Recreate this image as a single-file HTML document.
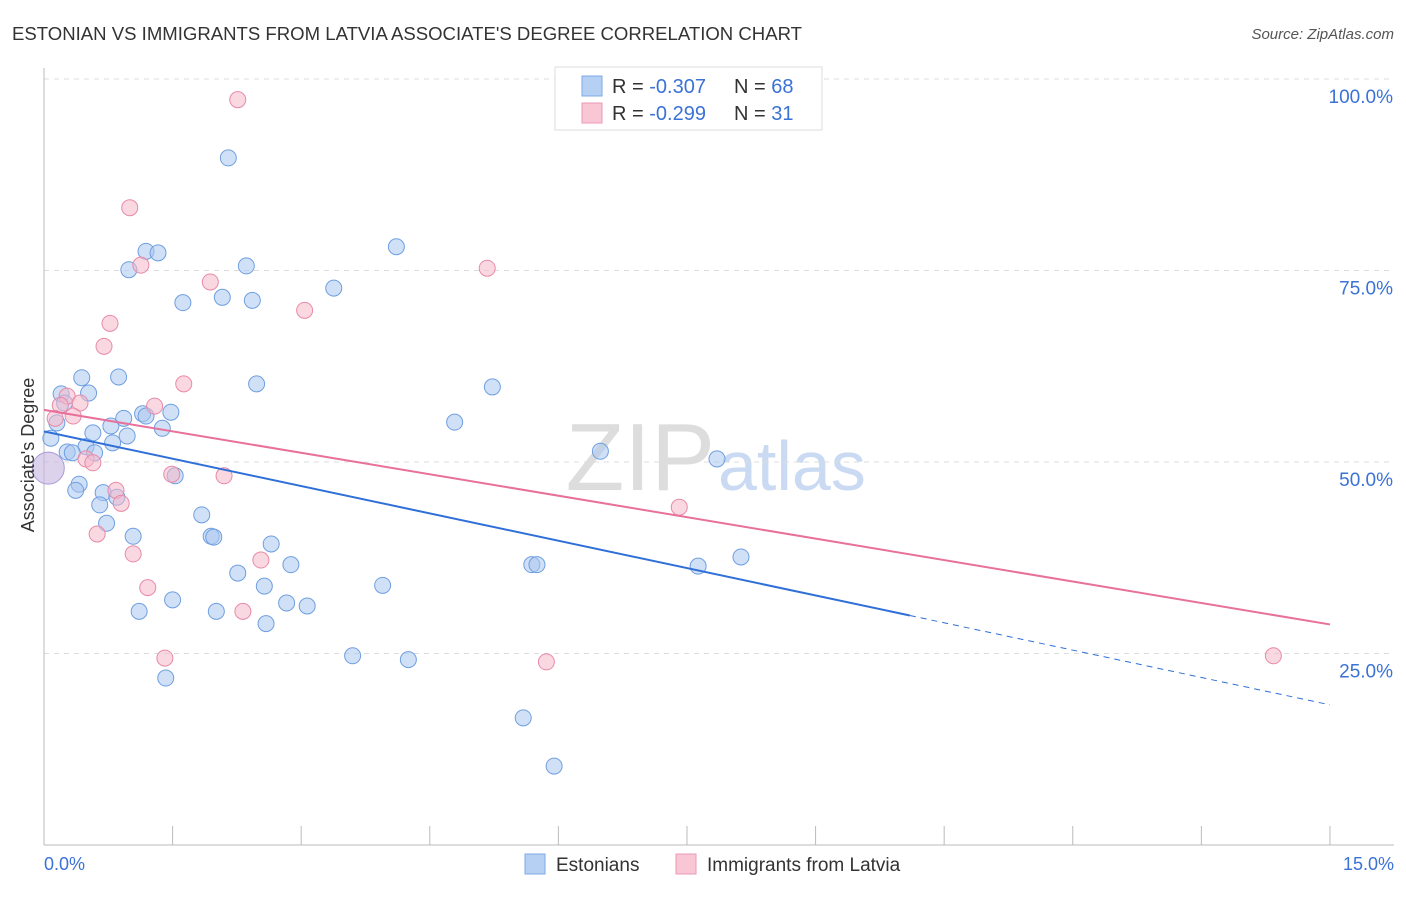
<!DOCTYPE html>
<html><head><meta charset="utf-8"><style>
body{margin:0;background:#fff;font-family:"Liberation Sans",sans-serif;}
svg text{font-family:"Liberation Sans",sans-serif;}
</style></head><body>
<svg id="chart" width="1406" height="892">
<text x="12" y="40" font-size="18" fill="#333" textLength="790" lengthAdjust="spacingAndGlyphs">ESTONIAN VS IMMIGRANTS FROM LATVIA ASSOCIATE'S DEGREE CORRELATION CHART</text>
<text x="1394" y="39" font-size="15" fill="#555" font-style="italic" text-anchor="end">Source: ZipAtlas.com</text>
<text x="715" y="490" font-size="96" fill="#ddd" text-anchor="end" font-family="Liberation Serif">ZIP</text>
<text x="718" y="490" font-size="70" fill="#c9daf2">atlas</text>
<g id="grid"></g><g id="axes"></g><g id="pts"></g><g id="lines"></g>
<text transform="translate(34,455) rotate(-90)" font-size="18" fill="#333" text-anchor="middle">Associate's Degree</text>
<text x="44" y="870" font-size="18" fill="#3a72d6">0.0%</text>
<text x="1394" y="870" font-size="18" fill="#3a72d6" text-anchor="end">15.0%</text>
<g>
<rect x="555" y="67" width="267" height="63" fill="#fff" stroke="#ddd"/>
<rect x="582" y="76" width="20" height="20" fill="#b6d0f4" stroke="#7fa9e6"/>
<rect x="582" y="103" width="20" height="20" fill="#f9c6d5" stroke="#ec9ab5"/>
<text x="612" y="93" font-size="20" fill="#333">R = <tspan fill="#3a72d6">-0.307</tspan></text>
<text x="734" y="93" font-size="20" fill="#333">N = <tspan fill="#3a72d6">68</tspan></text>
<text x="612" y="120" font-size="20" fill="#333">R = <tspan fill="#3a72d6">-0.299</tspan></text>
<text x="734" y="120" font-size="20" fill="#333">N = <tspan fill="#3a72d6"> 31</tspan></text>
</g>
<g><rect x="525" y="854" width="20" height="20" fill="#b6d0f4" stroke="#7fa9e6"/><text x="556" y="871" font-size="19" fill="#333">Estonians</text></g>
<g><rect x="676" y="854" width="20" height="20" fill="#f9c6d5" stroke="#ec9ab5"/><text x="707" y="871" font-size="19" fill="#333">Immigrants from Latvia</text></g>
</svg>
<script>
const yTicks=[25,50,75,100];
const yTickLabels=["25.0%","50.0%","75.0%","100.0%"];
const xTicks=[0,1.5,3,4.5,6,7.5,9,10.5,12,13.5,15];
const blueX=[2.15,4.11,1.19,1.33,0.99,2.36,3.38,1.62,2.08,2.43,0.44,0.87,0.20,0.52,2.48,5.23,0.24,0.93,1.15,1.48,1.19,0.15,0.78,1.38,0.57,0.97,0.08,0.80,0.49,0.27,0.59,0.33,4.79,6.49,7.85,1.53,0.41,0.37,0.69,0.85,0.65,0.73,1.84,1.04,1.95,1.98,2.65,2.26,2.88,2.57,5.69,5.75,7.63,8.13,3.95,1.50,1.11,2.01,2.83,3.07,2.59,3.60,4.25,1.42,5.59,5.95];
const blueY=[89.7,78.1,77.5,77.3,75.1,75.6,72.7,70.8,71.5,71.1,61.0,61.1,58.9,59.0,60.2,59.8,57.7,55.7,56.3,56.5,56.0,55.1,54.7,54.4,53.8,53.4,53.1,52.5,52.0,51.3,51.2,51.2,55.2,51.4,50.4,48.2,47.1,46.3,46.0,45.4,44.4,42.0,43.1,40.3,40.3,40.2,39.3,35.5,36.6,33.8,36.6,36.6,36.4,37.6,33.9,32.0,30.5,30.5,31.6,31.2,28.9,24.7,24.2,21.8,16.6,10.3];
const pinkX=[2.26,1.00,1.13,5.17,1.94,3.04,0.77,0.70,1.63,0.27,0.19,0.42,1.29,0.34,0.13,0.49,0.57,1.49,2.10,0.84,0.90,7.41,0.62,1.04,2.53,1.21,2.32,1.41,5.86,14.34];
const pinkY=[97.3,83.2,75.7,75.3,73.5,69.8,68.1,65.1,60.2,58.6,57.4,57.7,57.3,56.0,55.7,50.4,49.9,48.4,48.2,46.3,44.6,44.1,40.6,38.0,37.2,33.6,30.5,24.4,23.9,24.7];
const blueTrend=[54.0,-2.38,10.1];
const pinkTrend=[56.8,-1.867];
const X=v=>44+v*85.73, Y=v=>845-v*7.66;
const NS="http://www.w3.org/2000/svg";
function mk(p,t,a){const e=document.createElementNS(NS,t);for(const k in a)e.setAttribute(k,a[k]);document.getElementById(p).appendChild(e);return e;}
yTicks.forEach((t,i)=>{
 const l=mk('grid','line',{x1:44,x2:1394,y1:Y(t),y2:Y(t),stroke:'#ddd','stroke-dasharray':'5,5'});
 
 
 const tx=mk('grid','text',{x:1393,y:Y(t)+24,'font-size':19,fill:'#3a72d6','text-anchor':'end'});
 tx.textContent=yTickLabels[i];
 
 
});
const ax=mk('axes','line',{x1:44,x2:44,y1:68,y2:845,stroke:'#bbb'});


const bx=mk('axes','line',{x1:44,x2:1394,y1:845,y2:845,stroke:'#bbb'});


xTicks.forEach(t=>{const l=mk('axes','line',{x1:X(t),x2:X(t),y1:826,y2:845,stroke:'#bbb'});
 
 });
function pts(xs,ys,f,s,n){xs.forEach((x,i)=>{const c=mk('pts','circle',{cx:X(x),cy:Y(ys[i]),r:8,fill:f,'fill-opacity':0.55,stroke:s,'stroke-width':1});
 
 });}
pts(blueX,blueY,'#a9c6ee','#6f9fe0','estonian-point');
pts(pinkX,pinkY,'#f6b8cb','#e88aa8','latvia-point');
const bb=mk('pts','circle',{cx:X(0.05),cy:Y(49.2),r:16,fill:'#c6b4e0','fill-opacity':0.6,stroke:'#a99ad8'});


const bl=mk('lines','line',{x1:X(0),y1:Y(blueTrend[0]),x2:X(blueTrend[2]),y2:Y(blueTrend[0]+blueTrend[1]*blueTrend[2]),stroke:'#2f6fd8','stroke-width':2});


const bd=mk('lines','line',{x1:X(blueTrend[2]),y1:Y(blueTrend[0]+blueTrend[1]*blueTrend[2]),x2:X(15),y2:Y(blueTrend[0]+blueTrend[1]*15),stroke:'#2f6fd8','stroke-width':1,'stroke-dasharray':'6,5'});


const pl=mk('lines','line',{x1:X(0),y1:Y(pinkTrend[0]),x2:X(15),y2:Y(pinkTrend[0]+pinkTrend[1]*15),stroke:'#e8709a','stroke-width':2});


</script>
</body></html>
